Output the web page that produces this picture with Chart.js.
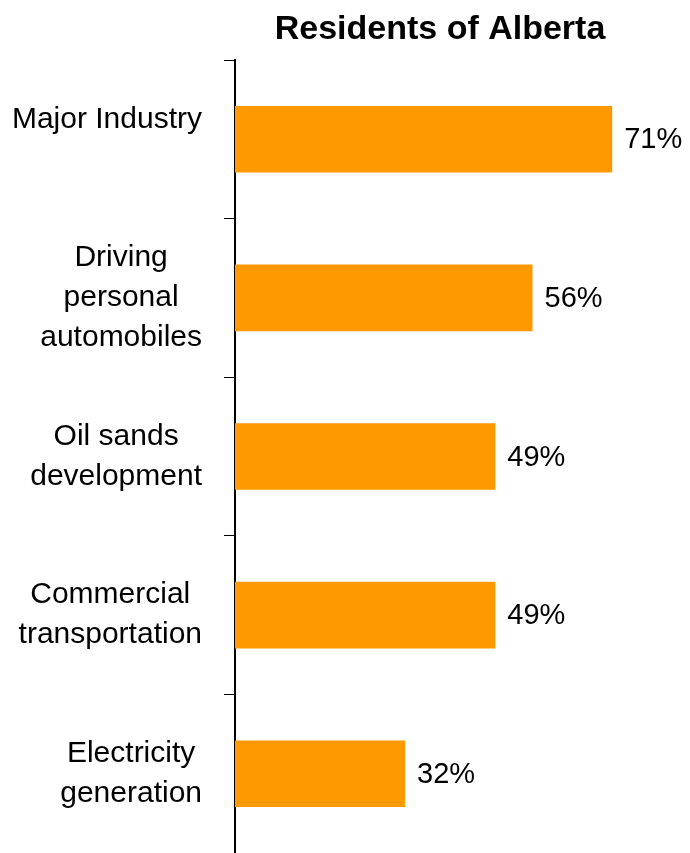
<!DOCTYPE html>
<html><head><meta charset="utf-8">
<script src="https://cdn.jsdelivr.net/npm/chart.js@4/dist/chart.umd.min.js"></script>
<style>html,body{margin:0;padding:0;background:#fff}#wrap{width:690px;height:853px;position:relative}</style>
</head><body><div id="wrap"><canvas id="c"></canvas></div>
<script>
const chartTitle = 'Residents of Alberta';
const categories = [['Major Industry', ''], ['Driving', 'personal', 'automobiles'], ['Oil sands', 'development'], ['Commercial', 'transportation'], ['Electricity', 'generation']];
const values = [71, 56, 49, 49, 32];
const valueSuffix = '%';

const FONT = '"Liberation Sans", Arial, Helvetica, sans-serif';

const labelPlugin = {
  id: 'labelPlugin',
  afterDraw(chart) {
    const ctx = chart.ctx;
    const ca = chart.chartArea;
    const yScale = chart.scales.y;
    ctx.save();
    ctx.fillStyle = '#000';
    // title
    ctx.font = 'bold 34px ' + FONT;
    ctx.textAlign = 'center';
    ctx.textBaseline = 'alphabetic';
    ctx.fillText(chartTitle, ca.left + 205, 39);
    // category labels
    ctx.font = '30px ' + FONT;
    ctx.textBaseline = 'middle';
    const lineH = 40;
    const blockRight = ca.left - 33;
    categories.forEach((lines, i) => {
      const yc = yScale.getPixelForValue(i);
      const w = Math.max(...lines.map(l => ctx.measureText(l).width));
      const xc = blockRight - w / 2;
      lines.forEach((l, k) => {
        ctx.fillText(l, xc, yc + (k - (lines.length - 1) / 2) * lineH);
      });
    });
    // value labels
    ctx.font = '29px ' + FONT;
    ctx.textAlign = 'left';
    const meta = chart.getDatasetMeta(0);
    meta.data.forEach((bar, i) => {
      ctx.fillText(values[i] + valueSuffix, bar.x + 12, bar.y + 1);
    });
    ctx.restore();
  }
};

new Chart(document.getElementById('c'), {
  type: 'bar',
  data: {
    labels: categories,
    datasets: [{
      data: values,
      backgroundColor: '#FF9900',
      borderWidth: 0,
      barPercentage: 0.42,
      categoryPercentage: 1
    }]
  },
  options: {
    indexAxis: 'y',
    responsive: true,
    maintainAspectRatio: false,
    animation: false,
    layout: { padding: { top: 60, right: 30, bottom: 0, left: 0 } },
    plugins: { legend: { display: false }, tooltip: { enabled: false }, title: { display: false } },
    scales: {
      x: { display: false, min: 0, max: 80 },
      y: {
        ticks: { display: false },
        grid: { drawOnChartArea: false, drawTicks: true, tickLength: 11, color: '#000', lineWidth: 1, offset: true },
        border: { display: true, color: '#000', width: 2 },
        afterFit(scale) { scale.width = 235; }
      }
    }
  },
  plugins: [labelPlugin]
});
</script>
</body></html>
